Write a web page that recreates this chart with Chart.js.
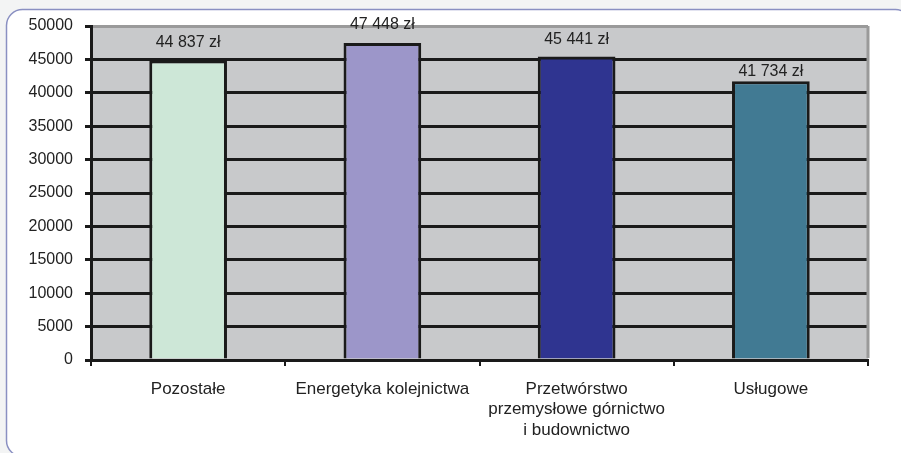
<!DOCTYPE html>
<html>
<head>
<meta charset="utf-8">
<script src="https://cdn.jsdelivr.net/npm/chart.js@4.4.1/dist/chart.umd.min.js"></script>
<style>
  html, body { margin: 0; padding: 0; background: #f3f4f4; }
  #wrap { width: 901px; height: 453px; }
</style>
</head>
<body>
<div id="wrap"><canvas id="chart-area"></canvas></div>
<script>
var categories = ['Pozostałe', 'Energetyka kolejnictwa', ['Przetwórstwo', 'przemysłowe górnictwo', 'i budownictwo'], 'Usługowe'];
var salaries = [44837, 47448, 45441, 41734];
var valueLabels = ['44 837 zł', '47 448 zł', '45 441 zł', '41 734 zł'];
var barColors = ['#cde7d7', '#9c96c9', '#2f3490', '#417a93'];
var yTicks = [0, 5000, 10000, 15000, 20000, 25000, 30000, 35000, 40000, 45000, 50000];

// how far above the bar top each value label sits (px)
var labelGap = [18, 18, 17, 10];

// frame, rounded panel and grey plot area
var panelPlugin = {
    id: 'panel',
    beforeDraw: function (chart) {
        var c = chart.ctx, a = chart.chartArea;
        c.save();
        c.fillStyle = '#f3f4f4';
        c.fillRect(0, 0, chart.width, chart.height);
        var x = 6.5, y = 9.5, w = 905, h = 447, r = 16;
        c.beginPath();
        c.moveTo(x + r, y);
        c.lineTo(x + w - r, y);
        c.arcTo(x + w, y, x + w, y + r, r);
        c.lineTo(x + w, y + h - r);
        c.arcTo(x + w, y + h, x + w - r, y + h, r);
        c.lineTo(x + r, y + h);
        c.arcTo(x, y + h, x, y + h - r, r);
        c.lineTo(x, y + r);
        c.arcTo(x, y, x + r, y, r);
        c.closePath();
        c.fillStyle = '#ffffff';
        c.fill();
        c.lineWidth = 1.5;
        c.strokeStyle = '#8a90c2';
        c.stroke();
        c.fillStyle = '#c8c9cb';
        c.fillRect(a.left, a.top, a.right - a.left, a.bottom - a.top);
        c.restore();
    },
    afterDatasetsDraw: function (chart) {
        var c = chart.ctx, a = chart.chartArea;
        c.save();
        c.strokeStyle = '#9a9a9a';
        c.lineWidth = 3;
        c.beginPath();
        c.moveTo(a.right, a.top);
        c.lineTo(a.right, a.bottom - 2);
        c.stroke();
        // value labels
        var meta = chart.getDatasetMeta(0);
        c.fillStyle = '#222222';
        c.font = '16px "Liberation Sans", Arial, sans-serif';
        c.textAlign = 'center';
        c.textBaseline = 'middle';
        meta.data.forEach(function (bar, i) {
            c.fillText(valueLabels[i], bar.x, bar.y - labelGap[i]);
        });
        c.restore();
    }
};

var config = {
    type: 'bar',
    data: {
        labels: categories,
        datasets: [{
            data: salaries,
            backgroundColor: barColors,
            borderColor: '#1a1a1a',
            borderWidth: 3,
            barPercentage: 0.4,
            categoryPercentage: 1
        }]
    },
    options: {
        responsive: true,
        maintainAspectRatio: false,
        animation: false,
        events: [],
        layout: { padding: { top: 26, right: 33, left: 0, bottom: 0 } },
        plugins: {
            legend: { display: false },
            tooltip: { enabled: false }
        },
        scales: {
            x: {
                afterFit: function (s) { s.height = 93; },
                grid: {
                    offset: true,
                    drawOnChartArea: false,
                    drawTicks: true,
                    tickLength: 6,
                    color: '#1a1a1a',
                    lineWidth: 2
                },
                border: { color: '#1a1a1a', width: 3 },
                ticks: {
                    color: '#222222',
                    padding: 13,
                    maxRotation: 0,
                    autoSkip: false,
                    font: { family: '"Liberation Sans", Arial, sans-serif', size: 17, lineHeight: 1.2 }
                }
            },
            y: {
                min: 0,
                max: 50000,
                afterFit: function (s) { s.width = 91; },
                afterBuildTicks: function (s) {
                    s.ticks = yTicks.map(function (v) { return { value: v }; });
                },
                grid: {
                    color: function (ctx) {
                        return ctx.tick && ctx.tick.value === 50000 ? '#9a9a9a' : '#1a1a1a';
                    },
                    tickColor: '#1a1a1a',
                    lineWidth: 3,
                    tickLength: 6
                },
                border: { color: '#1a1a1a', width: 3 },
                ticks: {
                    color: '#222222',
                    padding: 12,
                    font: { family: '"Liberation Sans", Arial, sans-serif', size: 16 },
                    callback: function (v) { return String(v); }
                }
            }
        }
    },
    plugins: [panelPlugin]
};

var ctx = document.getElementById('chart-area').getContext('2d');
window.myBar = new Chart(ctx, config);
</script>
</body>
</html>
